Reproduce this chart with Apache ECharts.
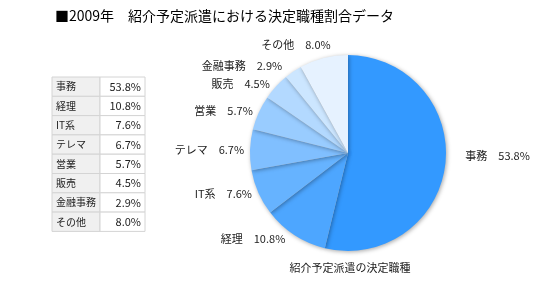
<!DOCTYPE html>
<html>
<head>
<meta charset="utf-8">
<script src="https://cdn.jsdelivr.net/npm/echarts@6/dist/echarts.min.js"></script>
<style>
  html, body { margin: 0; padding: 0; background: #fff; }
  #chart { width: 540px; height: 288px; }
</style>
</head>
<body>
<div id="chart"></div>
<script>
// 職種と割合
const categories = ['事務', '経理', 'IT系', 'テレマ', '営業', '販売', '金融事務', 'その他'];
const shares = [53.8, 10.8, 7.6, 6.7, 5.7, 4.5, 2.9, 8.0];
const colors = ['#3399ff', '#4da6ff', '#66b3ff', '#80bfff', '#99ccff', '#b3d9ff', '#cce6ff', '#e6f2ff'];

const FONT = '"Noto Sans CJK JP", sans-serif';

// 左の表
const tableX = 52, tableY = 77, rowH = 19.3, colSplit = 100, tableR = 145;
const tableEls = [];
categories.forEach((name, i) => {
  const y = tableY + i * rowH;
  tableEls.push({
    type: 'rect',
    shape: { x: tableX, y: y, width: colSplit - tableX, height: rowH },
    style: { fill: '#f0f0f0', stroke: '#d4d4d4', lineWidth: 1 }
  });
  tableEls.push({
    type: 'rect',
    shape: { x: colSplit, y: y, width: tableR - colSplit, height: rowH },
    style: { fill: '#ffffff', stroke: '#d4d4d4', lineWidth: 1 }
  });
  tableEls.push({
    type: 'text',
    x: tableX + 4, y: y + rowH / 2,
    style: { text: name, fill: '#222', font: '10px ' + FONT, textVerticalAlign: 'middle' }
  });
  tableEls.push({
    type: 'text',
    x: tableR - 4, y: y + rowH / 2,
    style: { text: shares[i].toFixed(1) + '%', fill: '#222', font: '11px ' + FONT, textAlign: 'right', textVerticalAlign: 'middle' }
  });
});

// ラベルの微調整（事務とその他）
const labelNudge = { 0: { dx: 9, dy: -9 }, 6: { dx: -4, dy: -3 }, 7: { dx: 15, dy: -9 } };

const chart = echarts.init(document.getElementById('chart'));
chart.setOption({
  animation: false,
  color: colors,
  title: {
    text: '■2009年　紹介予定派遣における決定職種割合データ',
    left: 50, top: 4,
    textStyle: { fontFamily: FONT, fontSize: 14, fontWeight: 'normal', color: '#000' }
  },
  graphic: [
    ...tableEls,
    {
      type: 'text',
      x: 350, y: 268,
      style: { text: '紹介予定派遣の決定職種', fill: '#222', font: '11px ' + FONT, textAlign: 'center', textVerticalAlign: 'middle' }
    }
  ],
  series: [{
    type: 'pie',
    center: [348, 153],
    radius: 98,
    startAngle: 90,
    clockwise: true,
    data: categories.map((name, i) => ({ name: name, value: shares[i] })),
    label: {
      show: true,
      position: 'outside',
      formatter: p => p.name + '　' + p.value.toFixed(1) + '%',
      fontFamily: FONT,
      fontSize: 11,
      lineHeight: 13,
      color: '#222'
    },
    labelLine: { show: false, length: 4, length2: 2 },
    labelLayout: p => labelNudge[p.dataIndex] || {},
    itemStyle: {
      borderWidth: 0,
      shadowBlur: 4,
      shadowColor: 'rgba(0,0,0,0.35)',
      shadowOffsetX: 1,
      shadowOffsetY: 1
    },
    emphasis: { disabled: true }
  }]
});
</script>
</body>
</html>
